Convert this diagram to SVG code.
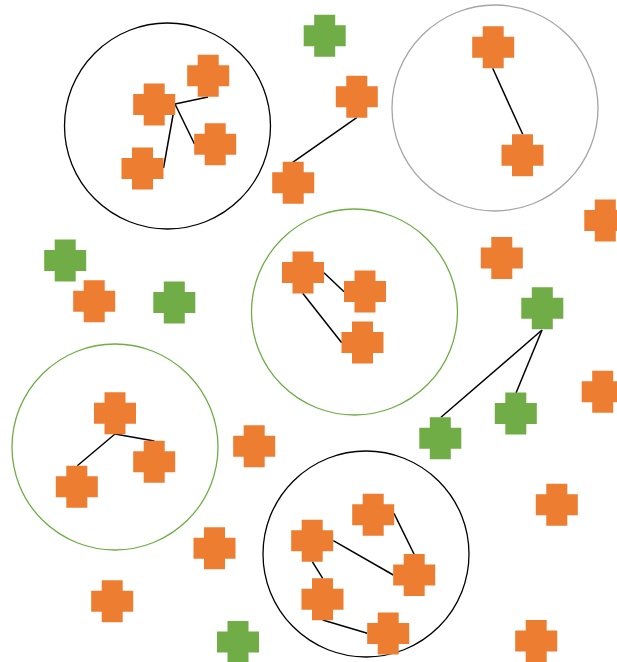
<svg xmlns="http://www.w3.org/2000/svg" xmlns:xlink="http://www.w3.org/1999/xlink" width="617" height="662" viewBox="0 0 617 662">
<style>
.o{fill:#ED7D31}
.g{fill:#70AD47}
.c{fill:none;stroke-width:1.3}
.cb{stroke:#000}
.cg{stroke:#70AD47}
.cy{stroke:#A5A5A5}
.ln{stroke:#000;stroke-width:1.5;fill:none}
</style>
<defs>
<path id="x" d="M-10.5,-21h21v10.5h10.5v21h-10.5v10.5h-21v-10.5h-10.5v-21h10.5z"/>
</defs>
<rect width="617" height="662" fill="#fff"/>
<g id="clusters">
<circle class="c cb" cx="167.5" cy="126" r="103"/>
<circle class="c cy" cx="495" cy="108" r="103"/>
<circle class="c cg" cx="354.5" cy="312" r="103"/>
<circle class="c cg" cx="115" cy="447" r="103"/>
<circle class="c cb" cx="366" cy="554" r="103"/>
</g>
<g id="connectors">
<line class="ln" x1="175" y1="104" x2="208" y2="97"/>
<line class="ln" x1="175" y1="104" x2="194.5" y2="144"/>
<line class="ln" x1="175" y1="104" x2="163.5" y2="168"/>
<line class="ln" x1="356.7" y1="117.7" x2="292.7" y2="162.3"/>
<line class="ln" x1="492.7" y1="68.3" x2="522.7" y2="134.3"/>
<line class="ln" x1="324" y1="272.7" x2="344" y2="291.7"/>
<line class="ln" x1="302.7" y1="293.3" x2="341.7" y2="342.7"/>
<line class="ln" x1="542" y1="330" x2="516" y2="393"/>
<line class="ln" x1="542" y1="330" x2="441" y2="417.3"/>
<line class="ln" x1="115" y1="434" x2="77.3" y2="465.7"/>
<line class="ln" x1="115" y1="434" x2="154.3" y2="441"/>
<line class="ln" x1="394" y1="513.3" x2="414" y2="554"/>
<line class="ln" x1="333.3" y1="540.7" x2="393.3" y2="575"/>
<line class="ln" x1="312.3" y1="561.7" x2="322.7" y2="578.3"/>
<line class="ln" x1="322.7" y1="620" x2="367.3" y2="633.3"/>
</g>
<g id="n1"><use href="#x" class="o" x="154.2" y="104.5"/></g>
<g id="n2"><use href="#x" class="o" x="208.2" y="75.8"/></g>
<g id="n3"><use href="#x" class="o" x="215.2" y="144.2"/></g>
<g id="n4"><use href="#x" class="o" x="142.5" y="168.5"/></g>
<g id="n5"><use href="#x" class="g" x="324.7" y="35.8"/></g>
<g id="n6"><use href="#x" class="o" x="356.8" y="96.8"/></g>
<g id="n7"><use href="#x" class="o" x="293.2" y="182.8"/></g>
<g id="n8"><use href="#x" class="o" x="493.2" y="47.2"/></g>
<g id="n9"><use href="#x" class="o" x="522.5" y="155.2"/></g>
<g id="n10"><use href="#x" class="o" x="605.3" y="220.5"/></g>
<g id="n11"><use href="#x" class="o" x="501.8" y="258"/></g>
<g id="n12"><use href="#x" class="g" x="65.2" y="260.5"/></g>
<g id="n13"><use href="#x" class="o" x="94.2" y="301.2"/></g>
<g id="n14"><use href="#x" class="g" x="174.3" y="302.5"/></g>
<g id="n15"><use href="#x" class="o" x="303" y="272.5"/></g>
<g id="n16"><use href="#x" class="o" x="365" y="291.5"/></g>
<g id="n17"><use href="#x" class="o" x="362.5" y="342.5"/></g>
<g id="n18"><use href="#x" class="g" x="542.3" y="308.3"/></g>
<g id="n19"><use href="#x" class="g" x="515.8" y="413.5"/></g>
<g id="n20"><use href="#x" class="g" x="440.3" y="438.2"/></g>
<g id="n21"><use href="#x" class="o" x="602.7" y="391.7"/></g>
<g id="n22"><use href="#x" class="o" x="115" y="413.2"/></g>
<g id="n23"><use href="#x" class="o" x="154.2" y="461.8"/></g>
<g id="n24"><use href="#x" class="o" x="76.8" y="486.7"/></g>
<g id="n25"><use href="#x" class="o" x="254.2" y="446.2"/></g>
<g id="n26"><use href="#x" class="o" x="214.5" y="548.2"/></g>
<g id="n27"><use href="#x" class="o" x="112.2" y="601.2"/></g>
<g id="n28"><use href="#x" class="g" x="238" y="642"/></g>
<g id="n29"><use href="#x" class="o" x="373.2" y="514.8"/></g>
<g id="n30"><use href="#x" class="o" x="312.2" y="540.8"/></g>
<g id="n31"><use href="#x" class="o" x="414.2" y="575"/></g>
<g id="n32"><use href="#x" class="o" x="322.5" y="599.2"/></g>
<g id="n33"><use href="#x" class="o" x="388.2" y="633.5"/></g>
<g id="n34"><use href="#x" class="o" x="556.8" y="504.8"/></g>
<g id="n35"><use href="#x" class="o" x="536.2" y="641"/></g>
</svg>
